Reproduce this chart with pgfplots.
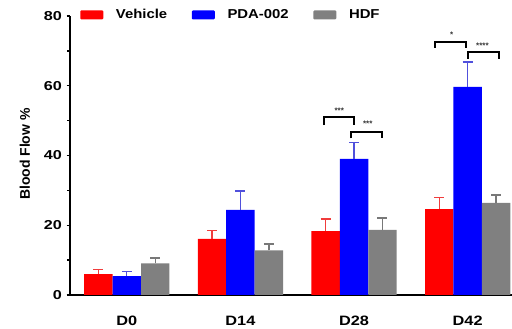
\documentclass[border=0pt]{standalone}
\usepackage{graphicx}
\usepackage{fontspec}
\setmainfont{Liberation Sans}
\usepackage{pgfplots}
\pgfplotsset{compat=1.18}
\definecolor{cred}{RGB}{255,0,0}
\definecolor{cblue}{RGB}{0,0,255}
\definecolor{cgray}{RGB}{128,128,128}
\definecolor{ered}{RGB}{240,60,60}
\definecolor{eblue}{RGB}{80,80,220}
\definecolor{egray}{RGB}{120,120,120}
\newcommand\sx[2]{\scalebox{#1}[1]{#2}}
\begin{document}
\begin{tikzpicture}
\begin{axis}[
  scale only axis,
  width=331.5pt, height=209.25pt,
  at={(0,0)}, anchor=south west,
  xmin=-0.5, xmax=3.39,
  ymin=0, ymax=80,
  axis lines=left,
  axis line style={-, line width=1.3pt, black},
  ybar=0pt, bar width=0.25,
  xtick={0,1,2,3},
  xticklabels={\sx{1.2}{D0},\sx{1.2}{D14},\sx{1.2}{D28},\sx{1.2}{D42}},
  xtick style={draw=none},
  xticklabel style={font=\fontsize{10.2}{12}\selectfont\bfseries, yshift=-9.6pt},
  ytick={0,20,40,60,80},
  yticklabels={\sx{1.25}{0},\sx{1.25}{20},\sx{1.25}{40},\sx{1.25}{60},\sx{1.25}{80}},
  minor ytick={10,30,50,70},
  tick align=outside,
  major tick length=2.6pt, minor tick length=2pt,
  ytick style={line width=1pt, black},
  minor y tick style={line width=1pt, black},
  yticklabel style={font=\fontsize{9.7}{11}\selectfont\bfseries},
  ylabel={Blood Flow \%},
  every axis y label/.style={at={(axis description cs:-0.102,0.505)}, rotate=90, anchor=center,
    font=\fontsize{10.5}{12}\selectfont\bfseries},
  legend columns=3,
  legend style={at={(axis description cs:0.0226,1.004)}, anchor=west, draw=none, fill=none,
    font=\fontsize{9.7}{11}\selectfont\bfseries, inner sep=0pt,
    /tikz/every odd column/.append style={column sep=7.5pt},
    /tikz/every even column/.append style={column sep=16.5pt}},
  legend image code/.code={\fill[#1, rounded corners=0.8pt] (0pt,-3.4pt) rectangle (17.25pt,3.4pt);},
  error bars/y dir=plus, error bars/y explicit,
]
\addplot[fill=cred, draw=none,
  error bars/error bar style={line width=1pt, ered},
  error bars/error mark options={line width=1pt, ered, mark size=3.75pt, rotate=90}]
  coordinates {(0,6.0) +- (0,1.3) (1,16.1) +- (0,2.4) (2,18.3) +- (0,3.5) (3,24.6) +- (0,3.3)};
\addlegendentry{\sx{1.15}{Vehicle}}
\addplot[fill=cblue, draw=none,
  error bars/error bar style={line width=1pt, eblue},
  error bars/error mark options={line width=1pt, eblue, mark size=3.75pt, rotate=90}]
  coordinates {(0,5.4) +- (0,1.3) (1,24.4) +- (0,5.4) (2,39.0) +- (0,4.8) (3,59.7) +- (0,7.1)};
\addlegendentry{\sx{1.15}{PDA-002}}
\addplot[fill=cgray, draw=none,
  error bars/error bar style={line width=1pt, egray},
  error bars/error mark options={line width=1pt, egray, mark size=3.75pt, rotate=90}]
  coordinates {(0,9.1) +- (0,1.5) (1,12.8) +- (0,1.8) (2,18.7) +- (0,3.4) (3,26.4) +- (0,2.3)};
\addlegendentry{\sx{1.15}{HDF}}
% significance brackets
\draw[line width=1.5pt, black] (axis cs:1.733,48.7) -- (axis cs:1.733,50.9) -- (axis cs:2.0,50.9) -- (axis cs:2.0,48.7);
\draw[line width=1.5pt, black] (axis cs:1.976,44.9) -- (axis cs:1.976,46.6) -- (axis cs:2.245,46.6) -- (axis cs:2.245,44.9);
\draw[line width=1.5pt, black] (axis cs:2.709,70.9) -- (axis cs:2.709,72.6) -- (axis cs:2.988,72.6) -- (axis cs:2.988,70.9);
\draw[line width=1.5pt, black] (axis cs:3.002,67.8) -- (axis cs:3.002,69.7) -- (axis cs:3.275,69.7) -- (axis cs:3.275,67.8);
\node[font=\fontsize{6}{6}\selectfont\bfseries, text=black!80] at (axis cs:1.87,52.9) {***};
\node[font=\fontsize{6}{6}\selectfont\bfseries, text=black!80] at (axis cs:2.12,49.1) {***};
\node[font=\fontsize{6}{6}\selectfont\bfseries, text=black!80] at (axis cs:2.86,74.7) {*};
\node[font=\fontsize{6}{6}\selectfont\bfseries, text=black!80] at (axis cs:3.13,71.6) {****};
\end{axis}
\pgfresetboundingbox
\path[use as bounding box] (-52.5pt,-25.5pt) rectangle (331.5pt,221.25pt);
\end{tikzpicture}
\end{document}
